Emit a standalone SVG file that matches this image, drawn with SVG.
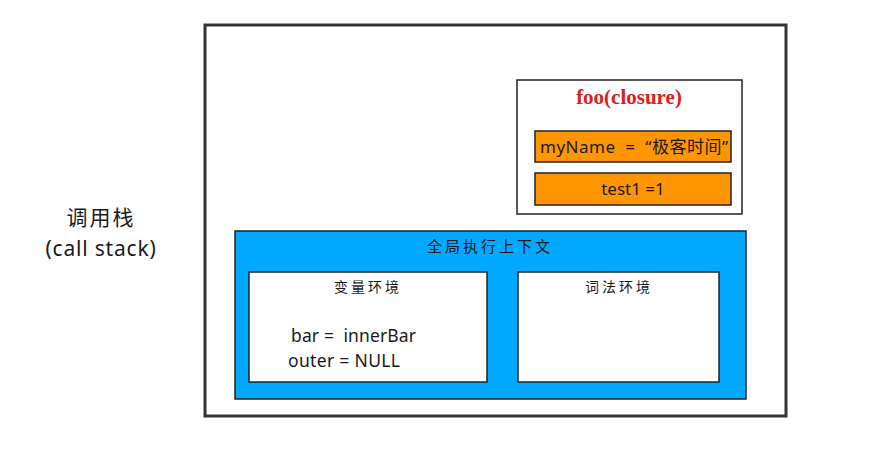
<svg xmlns="http://www.w3.org/2000/svg" width="870" height="456" viewBox="0 0 870 456">
<style>
.t{font-family:"Noto Sans","Liberation Sans","Noto Sans CJK SC",sans-serif;fill:#1a1a1a;white-space:pre}
.box{stroke:#222;stroke-width:1.5}
</style>
<rect width="870" height="456" fill="#fff"/>
<g id="label-callstack">
<text class="t" x="101" y="225" font-size="21" text-anchor="middle" letter-spacing="2">调用栈</text>
<text class="t" x="101" y="256" font-size="21" text-anchor="middle" letter-spacing="0.8">(call stack)</text>
</g>
<g id="stack">
<rect x="205" y="25" width="581" height="391" fill="#fff" stroke="#333" stroke-width="3"/>
</g>
<g id="foo-closure">
<rect class="box" x="517" y="80" width="225" height="134" fill="#fff"/>
<text x="629" y="104" font-size="21" font-weight="bold" fill="#e0201c" text-anchor="middle" font-family="'Liberation Serif',serif">foo(closure)</text>
<rect class="box" x="535" y="131" width="196" height="31" fill="#ff9500"/>
<text class="t" x="540" y="153" font-size="17" xml:space="preserve" textLength="188" lengthAdjust="spacing">myName  =  “极客时间”</text>
<rect class="box" x="535" y="173" width="196" height="32" fill="#ff9500"/>
<text class="t" x="633" y="195" font-size="17" text-anchor="middle">test1 =1</text>
</g>
<g id="global-context">
<rect class="box" x="235" y="231" width="511" height="168" fill="#00a8ff"/>
<text class="t" x="490" y="252" font-size="15" text-anchor="middle" letter-spacing="3">全局执行上下文</text>
</g>
<g id="variable-env">
<rect class="box" x="249" y="272" width="238" height="110" fill="#fff"/>
<text class="t" x="368" y="292" font-size="14" text-anchor="middle" letter-spacing="3">变量环境</text>
<text class="t" x="291" y="342" font-size="17.5" xml:space="preserve" textLength="125" lengthAdjust="spacing">bar =  innerBar</text>
<text class="t" x="288" y="367" font-size="17.5" textLength="112" lengthAdjust="spacing">outer = NULL</text>
</g>
<g id="lexical-env">
<rect class="box" x="518" y="272" width="201" height="110" fill="#fff"/>
<text class="t" x="619" y="292" font-size="14" text-anchor="middle" letter-spacing="3">词法环境</text>
</g>
<g id="connectors"></g>
</svg>
